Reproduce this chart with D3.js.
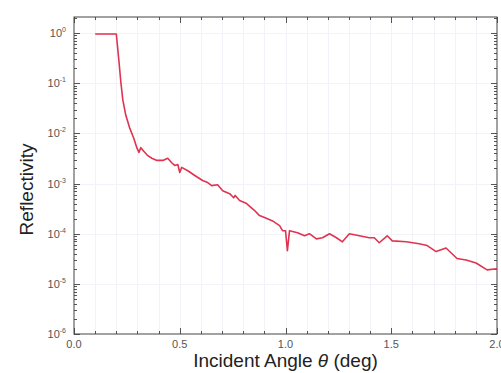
<!DOCTYPE html>
<html>
<head>
<meta charset="utf-8">
<script src="https://cdn.jsdelivr.net/npm/d3@7"></script>
<style>
  html, body { margin: 0; padding: 0; background: #fff; }
  svg { display: block; font-family: "Liberation Sans", Arial, sans-serif; }
</style>
</head>
<body>
<div id="chart"></div>
<script>
// incident angle (deg) and reflectivity
const theta = [0.10, 0.20, 0.212, 0.222, 0.231, 0.245, 0.264, 0.283, 0.297, 0.307, 0.316, 0.330,
  0.349, 0.368, 0.392, 0.420, 0.443, 0.462, 0.476, 0.491, 0.500, 0.509, 0.538, 0.571, 0.608,
  0.632, 0.651, 0.679, 0.703, 0.736, 0.755, 0.762, 0.783, 0.816, 0.854, 0.877, 0.901, 0.939,
  0.972, 0.986, 1.000, 1.009, 1.019, 1.057, 1.090, 1.113, 1.146, 1.175, 1.208, 1.241, 1.269,
  1.302, 1.349, 1.396, 1.420, 1.443, 1.481, 1.505, 1.571, 1.632, 1.670, 1.712, 1.759, 1.811,
  1.854, 1.901, 1.953, 2.0];
const reflectivity = [0.96, 0.96, 0.29, 0.1, 0.046, 0.023, 0.0126, 0.0079, 0.0052, 0.0042, 0.0052, 0.0044,
  0.0036, 0.0032, 0.0029, 0.0029, 0.0032, 0.0026, 0.0023, 0.0024, 0.00166, 0.0021, 0.0018, 0.00145, 0.00115,
  0.00105, 0.00091, 0.00095, 0.00072, 0.00063, 0.00052, 0.00058, 0.00046, 0.0004, 0.00029, 0.00023, 0.00021, 0.00018,
  0.000145, 0.000115, 0.000115, 0.000046, 0.000115, 0.000105, 0.000091, 0.0001, 0.000079, 0.000083, 0.0001, 0.000083, 0.000069,
  0.0001, 0.000091, 0.000083, 0.000083, 0.000066, 0.000091, 0.000072, 0.000069, 0.000063, 0.000058, 0.000044, 0.000052, 0.000032,
  0.00003, 0.000026, 0.000019, 0.00002];

const xTickLabels = ["0.0", "0.5", "1.0", "1.5", "2.0"];
const yExponents = [0, -1, -2, -3, -4, -5, -6];

const width = 501, height = 373;
const margin = { top: 17, right: 4, bottom: 39, left: 74 };

const svg = d3.select("#chart").append("svg")
  .attr("width", width)
  .attr("height", height);

const x = d3.scaleLinear().domain([0, 2]).range([margin.left, width - margin.right]);
const y = d3.scaleLog().domain([1e-6, 2.1]).range([height - margin.bottom, margin.top]);

const x0 = x.range()[0], x1 = x.range()[1];
const y0 = y.range()[0], y1 = y.range()[1];

const xMinor = d3.range(0, 21).map(i => i / 10);
const yMinor = [];
yExponents.forEach(e => {
  for (let m = 1; m < 10; m++) {
    const v = m * Math.pow(10, e);
    if (v <= y.domain()[1] && v >= y.domain()[0]) yMinor.push({ v: v, major: m === 1 });
  }
});

// very faint grid
svg.append("g").selectAll("line").data(xMinor.slice(1, -1)).join("line")
  .attr("x1", d => Math.round(x(d)) + 0.5).attr("x2", d => Math.round(x(d)) + 0.5)
  .attr("y1", y1).attr("y2", y0)
  .attr("stroke", "#f2f3f9").attr("stroke-width", 1);
svg.append("g").selectAll("line").data(yExponents.slice(0, -1)).join("line")
  .attr("x1", x0).attr("x2", x1)
  .attr("y1", d => Math.round(y(Math.pow(10, d))) + 0.5).attr("y2", d => Math.round(y(Math.pow(10, d))) + 0.5)
  .attr("stroke", "#f2f3f9").attr("stroke-width", 1);

// ticks pointing inwards on all four sides
const tickColor = "#555";
const xt = svg.append("g").attr("stroke", tickColor).attr("stroke-width", 1);
xMinor.forEach(d => {
  const len = (Math.round(d * 10) % 5 === 0) ? 6 : 3;
  const px = Math.round(x(d)) + 0.5;
  xt.append("line").attr("x1", px).attr("x2", px).attr("y1", y0).attr("y2", y0 - len);
  xt.append("line").attr("x1", px).attr("x2", px).attr("y1", y1).attr("y2", y1 + len);
});
const yt = svg.append("g").attr("stroke", tickColor).attr("stroke-width", 1);
yMinor.forEach(d => {
  const len = d.major ? 6 : 3;
  const py = Math.round(y(d.v)) + 0.5;
  yt.append("line").attr("x1", x0).attr("x2", x0 + len).attr("y1", py).attr("y2", py);
  yt.append("line").attr("x1", x1).attr("x2", x1 - len).attr("y1", py).attr("y2", py);
});

// frame
svg.append("rect")
  .attr("x", x0).attr("y", y1)
  .attr("width", x1 - x0).attr("height", y0 - y1)
  .attr("fill", "none").attr("stroke", "#444").attr("stroke-width", 1);

// x tick labels
svg.append("g").selectAll("text").data(xTickLabels).join("text")
  .attr("x", d => x(+d))
  .attr("y", y0 + 14)
  .attr("text-anchor", "middle")
  .attr("font-size", 11)
  .attr("fill", "#555")
  .text(d => d);

// y tick labels 10^n
const yl = svg.append("g").selectAll("text").data(yExponents).join("text")
  .attr("x", x0 - 8)
  .attr("y", d => y(Math.pow(10, d)) + 4)
  .attr("text-anchor", "end")
  .attr("font-size", 11)
  .attr("fill", "#555");
yl.append("tspan").text("10");
yl.append("tspan").attr("dy", -5).attr("font-size", 7).text(d => d);

// data line
const line = d3.line()
  .x((d, i) => x(theta[i]))
  .y(d => y(d));

svg.append("path")
  .datum(reflectivity)
  .attr("fill", "none")
  .attr("stroke", "#e0334f")
  .attr("stroke-width", 1.6)
  .attr("stroke-linejoin", "round")
  .attr("d", line);

// axis titles
const xt2 = svg.append("text")
  .attr("x", (x0 + x1) / 2)
  .attr("y", 367)
  .attr("text-anchor", "middle")
  .attr("font-size", 19)
  .attr("fill", "#222");
xt2.append("tspan").text("Incident Angle ");
xt2.append("tspan").attr("font-style", "italic").text("θ");
xt2.append("tspan").text(" (deg)");

svg.append("text")
  .attr("transform", `translate(33, ${(y0 + y1) / 2 + 14}) rotate(-90)`)
  .attr("text-anchor", "middle")
  .attr("font-size", 19)
  .attr("fill", "#222")
  .text("Reflectivity");
</script>
</body>
</html>
